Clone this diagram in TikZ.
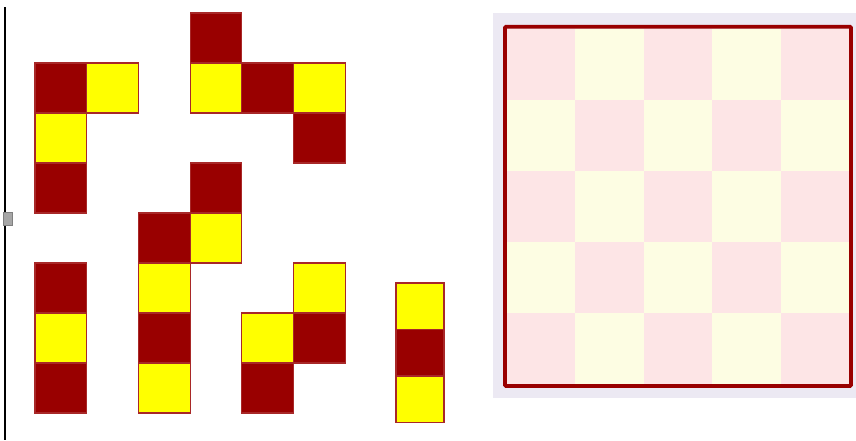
\documentclass[tikz,border=0pt]{standalone}
\usepackage{xcolor}
\usetikzlibrary{positioning}

\definecolor{darkred}{HTML}{990000}
\definecolor{brightyellow}{HTML}{FFFF00}
\definecolor{cellpink}{HTML}{FDE5E6}
\definecolor{cellcream}{HTML}{FDFDE3}
\definecolor{lavender}{HTML}{ECE9F3}
\definecolor{edgered}{HTML}{A82828}

\tikzset{
  cell/.style={draw=edgered, line width=1.2pt},
  D/.style={cell, fill=darkred},
  Y/.style={cell, fill=brightyellow},
}

\begin{document}
\begin{tikzpicture}[x=1pt,y=-1pt]
  \useasboundingbox (0,0) rectangle (856,440);
  \fill[white] (0,0) rectangle (856,440);

  % left rule and its little handle
  \draw[black, line width=1.6pt] (5,7) -- (5,440);
  \filldraw[fill=gray!70, draw=gray] (3,212) rectangle (12,225);

  % the pieces, on a grid of 51.7 x 50
  \foreach \cc/\rr/\kind in {0/1/D, 1/1/Y, 0/2/Y, 0/3/D,
                             3/0/D, 3/1/Y, 4/1/D, 5/1/Y, 5/2/D,
                             3/3/D, 2/4/D, 3/4/Y, 2/5/Y, 2/6/D, 2/7/Y,
                             0/5/D, 0/6/Y, 0/7/D,
                             5/5/Y, 4/6/Y, 5/6/D, 4/7/D}
    \draw[\kind] ({35+51.7*\cc},{13+50*\rr}) rectangle ++(51.7,50);

  % the smaller bar
  \foreach \yy/\kind in {283/Y, 329.5/D, 376/Y}
    \draw[\kind] (396,\yy) rectangle ++(48,46.5);

  % the board
  \fill[lavender] (492.7,12.7) rectangle (856,398.3);
  \foreach \i in {0,...,4}
    \foreach \j in {0,...,4} {
      \pgfmathparse{mod(\i+\j,2)==0 ? "cellpink" : "cellcream"}
      \fill[\pgfmathresult] ({507+68.4*\i},{29+71*\j}) rectangle ++(68.4,71);
    }
  \draw[darkred, line width=3.6pt, rounded corners=1pt] (505,26.7) rectangle (851,386);
\end{tikzpicture}
\end{document}
